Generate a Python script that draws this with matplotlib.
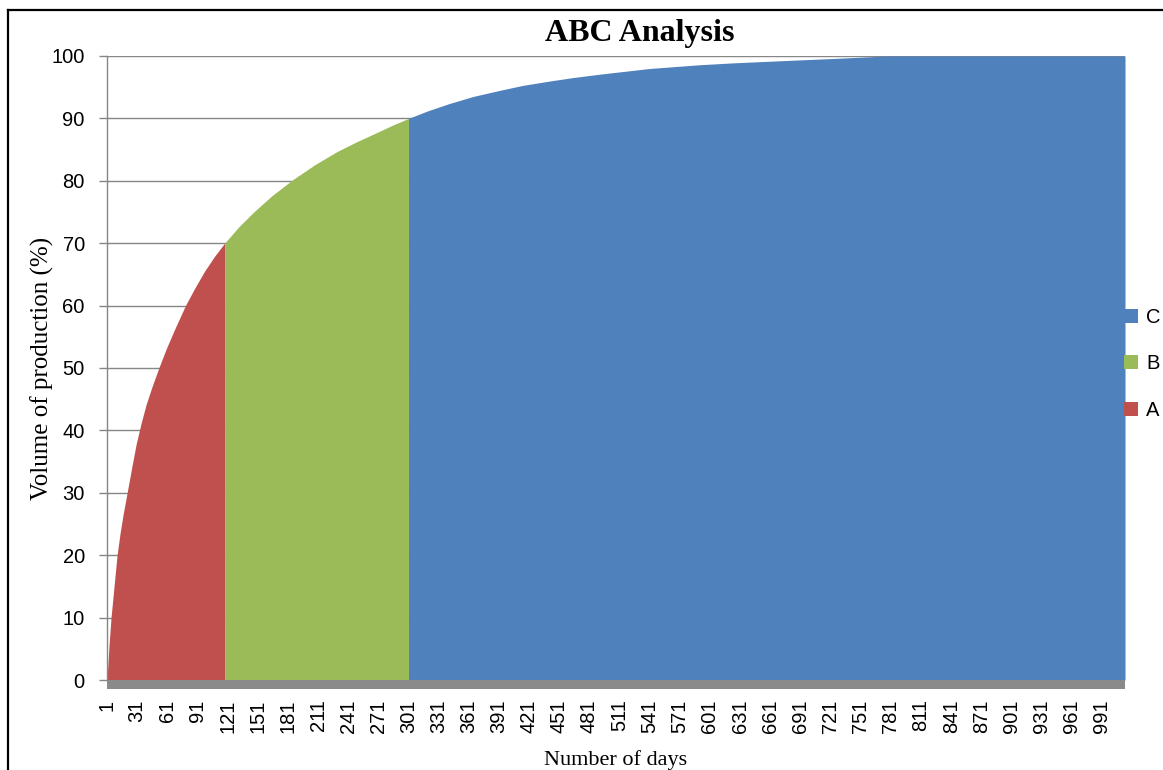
import matplotlib
matplotlib.use("Agg")
import matplotlib.pyplot as plt
from matplotlib.patches import Rectangle, Patch
from matplotlib.lines import Line2D

# ---- data ----
days_a = [1, 3, 5, 8, 11, 14, 17, 21, 26, 30, 35, 40, 46, 53, 60, 68, 79, 88, 98, 108, 118]
vals_a = [0, 5.5, 10, 15, 20, 23.5, 26.5, 30, 34.4, 37.8, 41.2, 44.2, 47.1, 50.2, 53.1, 56.1, 60,
          62.7, 65.5, 67.9, 70]
days_b = [118, 132, 147, 165, 186, 208, 230, 250, 269, 285, 301]
vals_b = [70, 72.6, 75.0, 77.6, 80.2, 82.6, 84.7, 86.3, 87.7, 88.9, 90]
days_c = [301, 320, 342, 365, 392, 415, 442, 465, 492, 541, 591, 624, 680, 723, 777, 1014]
vals_c = [90, 91.2, 92.4, 93.5, 94.5, 95.3, 96.0, 96.55, 97.1, 98.0, 98.6, 98.9, 99.3, 99.6, 100, 100]
x_ticks = list(range(1, 1000, 30))
y_ticks = list(range(0, 101, 10))
series_names = ["C", "B", "A"]
colors = {"A": "#C0504D", "B": "#9BBB59", "C": "#4F81BD"}

W, H = 1163, 770
fig = plt.figure(figsize=(W / 100, H / 100), dpi=100)
ax = fig.add_axes([107 / W, 1 - 680 / H, (1125 - 107) / W, (680 - 56) / H])

ax.fill_between(days_a, vals_a, 0, color=colors["A"], lw=0)
ax.fill_between(days_b, vals_b, 0, color=colors["B"], lw=0)
ax.fill_between(days_c, vals_c, 0, color=colors["C"], lw=0)

ax.set_xlim(1, 1014)
ax.set_ylim(0, 100)
ax.set_axisbelow(True)
ax.yaxis.grid(True, color="#868686", lw=1.0)

for s in ["top", "right", "bottom"]:
    ax.spines[s].set_visible(False)
ax.spines["left"].set_color("#868686")
ax.spines["left"].set_linewidth(1.0)

tick_font = dict(family="Liberation Sans", size=14.5)
ax.set_yticks(y_ticks)
ax.set_yticklabels([str(v) for v in y_ticks], fontdict=tick_font)
ax.tick_params(axis="y", length=6, width=1, color="#868686", pad=10)

ax.set_xticks(x_ticks)
ax.set_xticklabels([str(v) for v in x_ticks], fontdict=tick_font, rotation=90)
ax.tick_params(axis="x", length=0, pad=14)

# grey floor below the plot
ax.add_patch(Rectangle((0, -9 / 624), 1, 9 / 624, transform=ax.transAxes,
                       clip_on=False, color="#8a8a8a", lw=0))

ax.set_xlabel("Number of days", family="Liberation Serif", fontsize=16, labelpad=12)
ax.set_ylabel("Volume of production (%)", family="Liberation Serif", fontsize=18, labelpad=-2)

fig.text(640 / W, 1 - 33 / H, "ABC Analysis", family="Liberation Serif",
         fontweight="bold", fontsize=23, ha="center", va="center")

handles = [Patch(facecolor=colors[n], edgecolor="none") for n in series_names]
fig.legend(handles, series_names, loc="center left",
           bbox_to_anchor=(1124 / W, 1 - 364 / H), frameon=False,
           prop=dict(family="Liberation Sans", size=14.5),
           handlelength=0.7, handleheight=0.7, handletextpad=0.4,
           labelspacing=1.35, borderpad=0, borderaxespad=0)

# outer chart frame (left and top edges visible)
fig.add_artist(Line2D([8.3 / W, 8.3 / W], [0, 1 - 10.3 / H], transform=fig.transFigure,
                      color="black", lw=1.6))
fig.add_artist(Line2D([8.3 / W, 1], [1 - 10.3 / H, 1 - 10.3 / H], transform=fig.transFigure,
                      color="black", lw=1.6))

fig.savefig("out.png", dpi=100)
